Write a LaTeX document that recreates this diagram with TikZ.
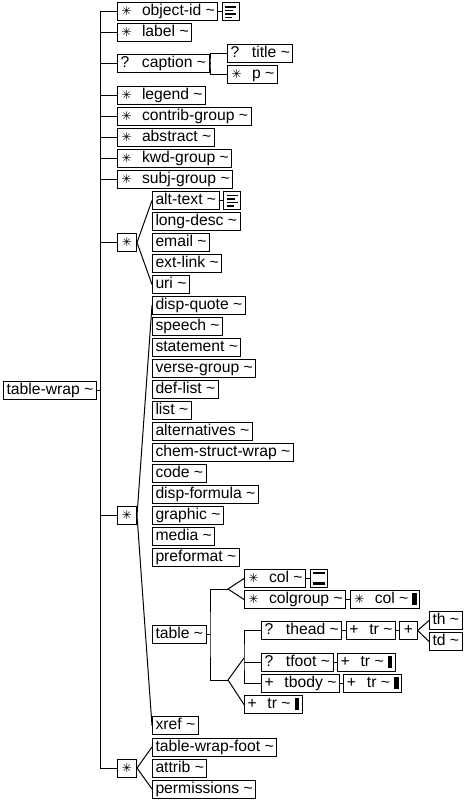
\documentclass[tikz,border=0pt]{standalone}
\usepackage{fontspec}
\setmainfont{Liberation Sans}
\newfontfamily\symfont{DejaVu Sans}
\usetikzlibrary{calc,positioning}

\newcommand{\many}{\makebox[21.5pt][l]{\hspace{1pt}{\symfont\fontsize{12}{12}\selectfont ✳}}}
\newcommand{\opt}{\makebox[21.5pt][l]{?}}
\newcommand{\more}{\makebox[20pt][l]{+}}
\newcommand{\blk}{\hspace{4pt}\rule[-1pt]{4.5pt}{12pt}}

\tikzset{
  elem/.style={draw, line width=1pt, anchor=west, inner xsep=3pt, inner ysep=0pt,
    minimum height=18pt, text height=11.5pt, text depth=3.5pt, font=\fontsize{15.7}{18}\selectfont},
  choice/.style={draw, line width=1pt, anchor=west, minimum width=19pt, minimum height=18pt,
    inner sep=0pt, font=\symfont\fontsize{12}{12}\selectfont},
  textico/.style={draw, line width=1pt, anchor=west, minimum width=17pt, minimum height=18pt, inner sep=0pt,
    path picture={
      \foreach \y/\l in {4/11,7.5/8,11/11,14.5/7}
        \draw[line width=1.6pt] ($(path picture bounding box.north west)+(3pt,-\y pt)$) -- ++(\l pt,0);
    }},
  emptyico/.style={draw, line width=1pt, anchor=west, minimum width=17pt, minimum height=18pt, inner sep=0pt,
    path picture={
      \draw[line width=1.5pt] ($(path picture bounding box.north west)+(2.5pt,-3.5pt)$) -- ++(12pt,0);
      \draw[line width=3pt] ($(path picture bounding box.south west)+(2.5pt,4pt)$) -- ++(12pt,0);
    }},
  link/.style={line width=1pt},
}

\begin{document}
\begin{tikzpicture}[x=1pt,y=-1pt]
\useasboundingbox (0,0) rectangle (471,800);
\coordinate (trunk) at (100,0);

% root
\node[elem] (tablewrap) at (3,390) {table-wrap \textasciitilde};

% first level
\node[elem] (objectid) at (117,12) {\many object-id \textasciitilde};
\node[textico, right=3.5pt of objectid] (objicon) {};
\node[elem] (label) at (117,32.5) {\many label \textasciitilde};
\node[elem] (caption) at (117,63.5) {\opt caption \textasciitilde};
\node[elem] (title) at (227,53.5) {\opt title \textasciitilde};
\node[elem] (p) at (227,74.5) {\many p \textasciitilde};
\node[elem] (legend) at (117,95.5) {\many legend \textasciitilde};
\node[elem] (contrib) at (117,116.5) {\many contrib-group \textasciitilde};
\node[elem] (abstract) at (117,137.5) {\many abstract \textasciitilde};
\node[elem] (kwd) at (117,158.5) {\many kwd-group \textasciitilde};
\node[elem] (subj) at (117,179.5) {\many subj-group \textasciitilde};
\node[choice] (choicea) at (117,242.5) {✳};
\node[choice] (choiceb) at (117,515.5) {✳};
\node[choice] (choicec) at (117,768) {✳};

% first choice
\node[elem] (alttext) at (152,200.5) {alt-text \textasciitilde};
\node[textico, right=3.5pt of alttext] (alticon) {};
\node[elem] (longdesc) at (152,221.5) {long-desc \textasciitilde};
\node[elem] (email) at (152,242.5) {email \textasciitilde};
\node[elem] (extlink) at (152,263.5) {ext-link \textasciitilde};
\node[elem] (uri) at (152,284.5) {uri \textasciitilde};

% second choice
\node[elem] (dispquote) at (152,305.5) {disp-quote \textasciitilde};
\node[elem] (speech) at (152,326.5) {speech \textasciitilde};
\node[elem] (statement) at (152,347.5) {statement \textasciitilde};
\node[elem] (versegroup) at (152,368.5) {verse-group \textasciitilde};
\node[elem] (deflist) at (152,389.5) {def-list \textasciitilde};
\node[elem] (list) at (152,410.5) {list \textasciitilde};
\node[elem] (alternatives) at (152,431.5) {alternatives \textasciitilde};
\node[elem] (chemstruct) at (152,452.5) {chem-struct-wrap \textasciitilde};
\node[elem] (code) at (152,473.5) {code \textasciitilde};
\node[elem] (dispformula) at (152,494.5) {disp-formula \textasciitilde};
\node[elem] (graphic) at (152,515.5) {graphic \textasciitilde};
\node[elem] (media) at (152,536.5) {media \textasciitilde};
\node[elem] (preformat) at (152,557.5) {preformat \textasciitilde};
\node[elem] (table) at (152,634.5) {table \textasciitilde};
\node[elem] (xref) at (152,725.5) {xref \textasciitilde};

% table content
\node[elem] (col) at (244,578.5) {\many col \textasciitilde};
\node[emptyico, right=3.5pt of col] (colicon) {};
\node[elem] (colgroup) at (244,599.5) {\many colgroup \textasciitilde};
\node[elem, right=3.5pt of colgroup] (colin) {\many col \textasciitilde\blk};
\node[elem] (thead) at (261,630.5) {\opt thead \textasciitilde};
\node[elem, right=3.5pt of thead] (trhead) {\more tr \textasciitilde};
\node[elem, inner xsep=4pt, right=3.5pt of trhead] (rowplus) {+};
\node[elem] (th) at (429,620.5) {th \textasciitilde};
\node[elem] (td) at (429,641.5) {td \textasciitilde};
\node[elem] (tfoot) at (261,662.5) {\opt tfoot \textasciitilde};
\node[elem, right=3.5pt of tfoot] (trfoot) {\more tr \textasciitilde\blk};
\node[elem] (tbody) at (261,683.5) {\more tbody \textasciitilde};
\node[elem, right=3.5pt of tbody] (trbody) {\more tr \textasciitilde\blk};
\node[elem] (tr) at (244,704.5) {\more tr \textasciitilde\blk};

% third choice
\node[elem] (twfoot) at (152,747) {table-wrap-foot \textasciitilde};
\node[elem] (attrib) at (152,768) {attrib \textasciitilde};
\node[elem] (permissions) at (152,789) {permissions \textasciitilde};

% trunk
\draw[link] (tablewrap.east) -- (tablewrap.east -| trunk);
\draw[link] (objectid.west -| trunk) -- (choicec.west -| trunk);
\foreach \n in {objectid,label,caption,legend,contrib,abstract,kwd,subj,choicea,choiceb,choicec}
  \draw[link] (\n.west) -- (\n.west -| trunk);

% caption
\coordinate (capsplit) at (210,63.5);
\draw[link] (caption.east) -- (capsplit);
\draw[link] (title.west) -| (capsplit) |- (p.west);

% choice fans
\draw[link] (alttext.west) -- (choicea.east) -- (uri.west);
\draw[link] (dispquote.west) -- (choiceb.east) -- (xref.west);
\draw[link] (twfoot.west) -- (choicec.east) -- (permissions.west);

% table
\coordinate (tabsplit) at (210,634.5);
\coordinate (colsplit) at (228,589);
\coordinate (bodysplit) at (228,680);
\coordinate (rowsplit) at (244,658);
\draw[link] (table.east) -- (tabsplit);
\draw[link] (colsplit) -| (tabsplit) |- (bodysplit);
\draw[link] (col.west) -- (colsplit) -- (colgroup.west);
\draw[link] (rowsplit) -- (bodysplit) -- (tr.west);
\draw[link] (thead.west) -| (rowsplit) |- (tbody.west);
\draw[link] (tfoot.west) -- (tfoot.west -| rowsplit);
\draw[link] (th.west) -- (rowplus.east) -- (td.west);

% sequences
\draw[link] (objectid) -- (objicon);
\draw[link] (alttext) -- (alticon);
\draw[link] (col) -- (colicon);
\draw[link] (colgroup) -- (colin);
\draw[link] (thead) -- (trhead);
\draw[link] (trhead) -- (rowplus);
\draw[link] (tfoot) -- (trfoot);
\draw[link] (tbody) -- (trbody);
\end{tikzpicture}
\end{document}
